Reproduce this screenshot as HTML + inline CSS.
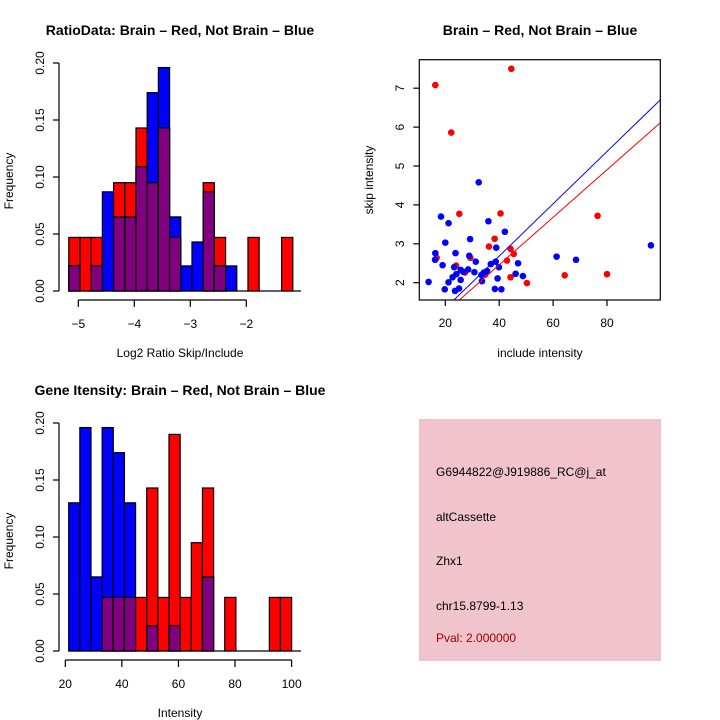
<!DOCTYPE html>
<html><head><meta charset="utf-8">
<style>
html,body{margin:0;padding:0;background:#fff;}
svg{display:block;font-family:"Liberation Sans",sans-serif;}
</style></head>
<body>
<svg id="root" width="720" height="720" viewBox="0 0 720 720" xmlns="http://www.w3.org/2000/svg">
<rect x="0" y="0" width="720" height="720" fill="#fff"/>
<g id="p1"></g>
<g id="p2"></g>
<g id="p3"></g>
<g id="p4">
  <rect x="419" y="419" width="242" height="242" fill="#f1c3cd"/>
  <text x="436" y="476" font-size="12" fill="#000">G6944822@J919886_RC@j_at</text>
  <text x="436" y="521" font-size="12" fill="#000">altCassette</text>
  <text x="436" y="565" font-size="12" fill="#000">Zhx1</text>
  <text x="436" y="610" font-size="12" fill="#000">chr15.8799-1.13</text>
  <text x="436" y="642" font-size="12" fill="#a00000">Pval: 2.000000</text>
</g>
</svg>
<script>
// ---- Histogram 1 data (Log2 ratio) ----
const h1Start = -5.17;
const h1BinWidth = 0.2;
const h1Red  = [0.047,0.047,0.047,0,0.095,0.095,0.143,0.095,0.143,0.047,0,0,0.095,0.047,0,0,0.047,0,0,0.047];
const h1Blue = [0.022,0,0.022,0.087,0.065,0.065,0.109,0.174,0.196,0.065,0.022,0.043,0.087,0.022,0.022,0,0,0,0,0];
const h1XTicks = [-5,-4,-3,-2];
const h1XLabels = ["\u22125","\u22124","\u22123","\u22122"];
const yTicks = [0,0.05,0.10,0.15,0.20];
const yLabels = ["0.00","0.05","0.10","0.15","0.20"];

// ---- Histogram 2 data (Intensity) ----
const h2Start = 21.2;
const h2BinWidth = 3.94;
const h2Red  = [0,0,0,0.047,0.047,0.047,0.047,0.143,0.047,0.190,0.047,0.095,0.143,0,0.047,0,0,0,0.047,0.047];
const h2Blue = [0.130,0.196,0.065,0.196,0.174,0.130,0,0.022,0,0.022,0,0,0.065,0,0,0,0,0,0,0];
const h2XTicks = [20,40,60,80,100];
const h2XLabels = ["20","40","60","80","100"];

// ---- Scatter data ----
const blueX = [13.8,16.3,16.2,18.4,19.0,20.0,19.8,21.2,21.2,22.7,23.3,23.8,23.6,24.1,25.1,25.7,25.7,26.7,28.5,28.9,29.2,30.8,31.3,32.4,33.4,33.6,34.3,35.5,36.0,36.9,38.4,38.7,38.9,39.4,39.9,40.8,42.1,46.1,47.0,48.8,61.3,68.5,96.3];
const blueY = [2.02,2.76,2.59,3.70,2.45,3.03,1.83,3.53,2.01,2.14,2.40,2.76,1.79,2.22,1.85,2.33,2.07,2.28,2.34,2.69,3.12,2.27,2.54,4.58,2.20,2.04,2.26,2.30,3.58,2.48,1.84,2.54,2.90,2.11,2.40,1.83,3.31,2.23,2.50,2.17,2.67,2.59,2.96];
const redX = [16.3,16.8,22.2,24.0,25.2,27.3,29.3,34.8,36.2,38.3,40.5,42.9,44.2,44.2,44.5,45.4,50.3,64.3,76.5,80.0];
const redY = [7.08,2.64,5.86,2.44,3.77,2.26,2.64,2.21,2.93,3.13,3.78,2.57,2.87,2.14,7.50,2.74,1.99,2.19,3.72,2.22];
const blueFit = [-0.004,0.0672]; // intercept, slope
const redFit = [0.015,0.0611];
const sxTicks = [20,40,60,80];
const syTicks = [2,3,4,5,6,7];

const NS="http://www.w3.org/2000/svg";
function mk(parent,tag,attrs,text){
  const e=document.createElementNS(NS,tag);
  for(const k in attrs)e.setAttribute(k,attrs[k]);
  if(text!==undefined)e.textContent=text;
  parent.appendChild(e);return e;
}

function histogram(g,oy,title,start,bw,red,blue,xTicks,xLabels,xScale,xlab){
  const y0=291+oy, yPx=(291-63)/0.2;
  const yS=v=>y0-v*yPx;
  let t=mk(g,'text',{x:180,y:35+oy,'text-anchor':'middle','font-size':14,'font-weight':'bold'},title);
  
  
  let bl=mk(g,'line',{x1:xScale(start),x2:301,y1:y0,y2:y0,stroke:'#000','stroke-width':1.3});
  
  
  for(let i=0;i<red.length;i++){
    const xa=xScale(start+i*bw), xb=xScale(start+(i+1)*bw);
    const r=red[i], b=blue[i], m=Math.min(r,b);
    const draw=(v,col,name)=>{
      if(v<=0)return;
      const rc=mk(g,'rect',{x:xa,y:yS(v),width:xb-xa,height:v*yPx,fill:col,stroke:'#000','stroke-width':1.2});
      
      
    };
    draw(r,'#ff0000','bar-brain-'+(i+1));
    draw(b,'#0000ff','bar-not-brain-'+(i+1));
    draw(m,'#800080','bar-overlap-'+(i+1));
  }
  let ya=mk(g,'line',{x1:59,x2:59,y1:yS(0.2),y2:y0,stroke:'#000','stroke-width':1.2});
  
  
  yTicks.forEach((v,i)=>{
    mk(g,'line',{x1:53,x2:59,y1:yS(v),y2:yS(v),stroke:'#000','stroke-width':1.2});
    const tl=mk(g,'text',{x:44,y:yS(v),'text-anchor':'middle','font-size':12,transform:`rotate(-90 44 ${yS(v)})`},yLabels[i]);
    
    
  });
  let yl=mk(g,'text',{x:13,y:181+oy,'text-anchor':'middle','font-size':12,transform:`rotate(-90 13 ${181+oy})`},'Frequency');
  
  
  const ax=300+oy;
  let xa=mk(g,'line',{x1:xScale(xTicks[0]),x2:xScale(xTicks[xTicks.length-1]),y1:ax,y2:ax,stroke:'#000','stroke-width':1.2});
  
  
  xTicks.forEach((v,i)=>{
    mk(g,'line',{x1:xScale(v),x2:xScale(v),y1:ax,y2:ax+7,stroke:'#000','stroke-width':1.2});
    const tl=mk(g,'text',{x:xScale(v),y:ax+28,'text-anchor':'middle','font-size':12},xLabels[i]);
    
    
  });
  let xl=mk(g,'text',{x:180,y:357+oy,'text-anchor':'middle','font-size':12},xlab);
  
  
}

histogram(document.getElementById('p1'),0,'RatioData: Brain \u2013 Red, Not Brain \u2013 Blue',
  h1Start,h1BinWidth,h1Red,h1Blue,h1XTicks,h1XLabels,v=>78.3+(v+5)*56,'Log2 Ratio Skip/Include');
histogram(document.getElementById('p3'),360,'Gene Itensity: Brain \u2013 Red, Not Brain \u2013 Blue',
  h2Start,h2BinWidth,h2Red,h2Blue,h2XTicks,h2XLabels,v=>65.3+(v-20)*2.829,'Intensity');

(function(){
  const g=document.getElementById('p2');
  const L=419.3,R=660.3,T=59.7,B=300;
  const sx=v=>445.3+(v-20)*2.695;
  const sy=v=>282.7-(v-2)*38.9;
  let t=mk(g,'text',{x:540,y:35,'text-anchor':'middle','font-size':14,'font-weight':'bold'},'Brain \u2013 Red, Not Brain \u2013 Blue');
  
  
  const cp=mk(g,'clipPath',{id:'clipS'});
  mk(cp,'rect',{x:L,y:T,width:R-L,height:B-T});
  const inner=mk(g,'g',{'clip-path':'url(#clipS)'});
  redX.forEach((x,i)=>{
    const c=mk(inner,'circle',{cx:sx(x),cy:sy(redY[i]),r:3.3,fill:'#ff0000'});
    
    
  });
  blueX.forEach((x,i)=>{
    const c=mk(inner,'circle',{cx:sx(x),cy:sy(blueY[i]),r:3.3,fill:'#0000ff'});
    
    
  });
  const line=(f,col,name)=>{
    const x1=0,x2=110;
    const l=mk(inner,'line',{x1:sx(x1),y1:sy(f[0]+f[1]*x1),x2:sx(x2),y2:sy(f[0]+f[1]*x2),stroke:col,'stroke-width':1});
    
    
  };
  line(blueFit,'#0000ff','fit-line-not-brain');
  line(redFit,'#ff0000','fit-line-brain');
  const box=mk(g,'rect',{x:L,y:T,width:R-L,height:B-T,fill:'none',stroke:'#000','stroke-width':1.2});
  
  
  sxTicks.forEach(v=>{
    mk(g,'line',{x1:sx(v),x2:sx(v),y1:B,y2:B+6,stroke:'#000','stroke-width':1.2});
    const tl=mk(g,'text',{x:sx(v),y:B+27,'text-anchor':'middle','font-size':12},String(v));
    
    
  });
  syTicks.forEach(v=>{
    mk(g,'line',{x1:L-6,x2:L,y1:sy(v),y2:sy(v),stroke:'#000','stroke-width':1.2});
    const tl=mk(g,'text',{x:404,y:sy(v),'text-anchor':'middle','font-size':12,transform:`rotate(-90 404 ${sy(v)})`},String(v));
    
    
  });
  let xl=mk(g,'text',{x:540,y:357,'text-anchor':'middle','font-size':12},'include intensity');
  
  
  let yl=mk(g,'text',{x:373,y:180,'text-anchor':'middle','font-size':12,transform:'rotate(-90 373 180)'},'skip intensity');
  
  
})();
</script>
</body></html>
